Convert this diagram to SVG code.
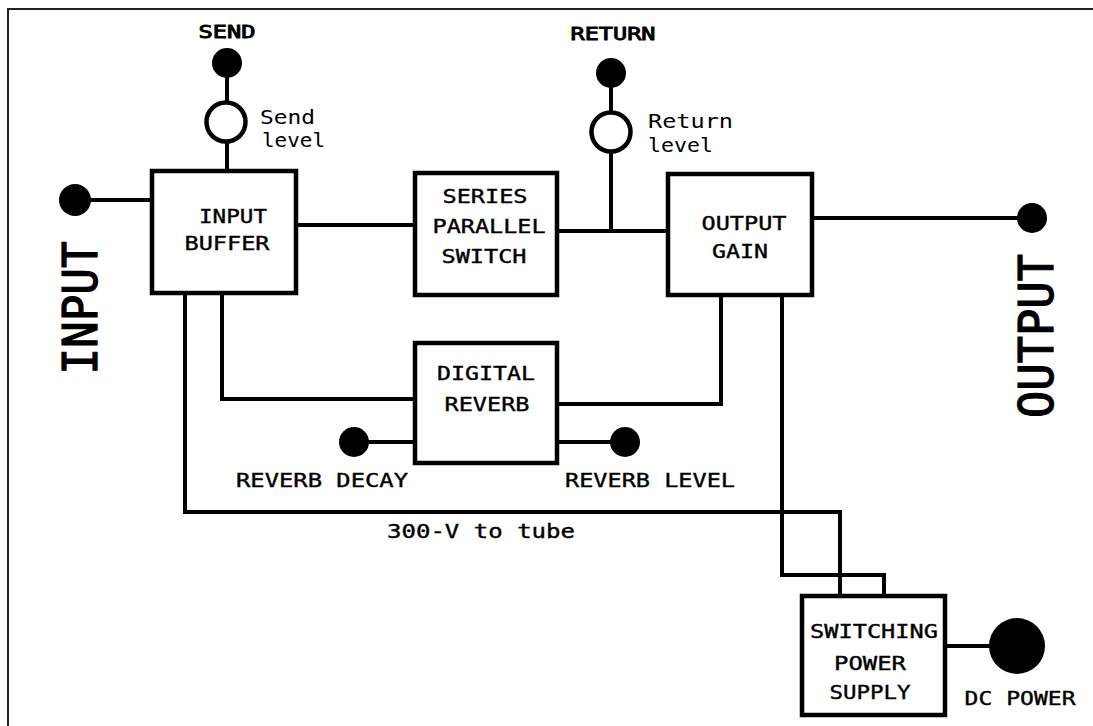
<svg xmlns="http://www.w3.org/2000/svg" width="1093" height="726" viewBox="0 0 1093 726">
<style>
.box{fill:#fff;stroke:#000;stroke-width:4.5}
.wire{fill:none;stroke:#000;stroke-width:4;stroke-linejoin:miter;stroke-linecap:square}
.dot{fill:#000}
.ring{fill:#fff;stroke:#000;stroke-width:4.5}
.t{font-family:"DejaVu Sans Mono","Liberation Mono",monospace;font-size:20px;fill:#000;stroke:#000;stroke-width:0.4;text-anchor:middle}
.tl{font-family:"DejaVu Sans Mono","Liberation Mono",monospace;font-size:20px;fill:#000;text-anchor:start}
.tb{font-family:"DejaVu Sans Mono","Liberation Mono",monospace;font-size:18px;fill:#000;stroke:#000;stroke-width:0.9;text-anchor:middle}
.big{font-family:"DejaVu Sans Mono","Liberation Mono",monospace;font-size:48px;fill:#000;stroke:#000;stroke-width:1.2;text-anchor:middle}
</style>
<rect x="0" y="0" width="1093" height="726" fill="#fff"/>
<rect id="frame" x="8" y="9" width="1100" height="730" fill="none" stroke="#222" stroke-width="2"/>

<g id="connectors">
  <line class="wire" x1="227" y1="63" x2="227" y2="171"/>
  <line class="wire" x1="75" y1="200" x2="152" y2="200"/>
  <line class="wire" x1="296" y1="225" x2="415" y2="225"/>
  <line class="wire" x1="557" y1="231" x2="668" y2="231"/>
  <line class="wire" x1="611" y1="73" x2="611" y2="231"/>
  <line class="wire" x1="812" y1="218" x2="1032" y2="218"/>
  <polyline class="wire" points="222,293 222,399 415,399"/>
  <polyline class="wire" points="557,404 721,404 721,295"/>
  <line class="wire" x1="354" y1="442" x2="415" y2="442"/>
  <line class="wire" x1="557" y1="442" x2="624" y2="442"/>
  <polyline class="wire" points="185,293 185,512 840,512 840,596"/>
  <polyline class="wire" points="782,295 782,575 884,575 884,596"/>
  <line class="wire" x1="945" y1="646" x2="1017" y2="646"/>
</g>

<g id="send">
  <circle class="dot" cx="227" cy="63" r="15"/>
  <text class="tb" x="227" y="38" textLength="57" lengthAdjust="spacingAndGlyphs">SEND</text>
</g>
<g id="send-level">
  <circle class="ring" cx="226" cy="122" r="19.5"/>
  <text class="tl" x="260" y="124" textLength="55" lengthAdjust="spacingAndGlyphs">Send</text>
  <text class="tl" x="262" y="147" textLength="63" lengthAdjust="spacingAndGlyphs">level</text>
</g>
<g id="return">
  <circle class="dot" cx="611" cy="73" r="15"/>
  <text class="tb" x="613" y="40" textLength="85" lengthAdjust="spacingAndGlyphs">RETURN</text>
</g>
<g id="return-level">
  <circle class="ring" cx="611" cy="132" r="19.5"/>
  <text class="tl" x="648" y="128" textLength="85" lengthAdjust="spacingAndGlyphs">Return</text>
  <text class="tl" x="648" y="152" textLength="65" lengthAdjust="spacingAndGlyphs">level</text>
</g>
<g id="input">
  <circle class="dot" cx="75" cy="200" r="16"/>
  <text class="big" transform="translate(97,308) rotate(-90)" x="0" y="0" textLength="133" lengthAdjust="spacingAndGlyphs">INPUT</text>
</g>
<g id="output">
  <circle class="dot" cx="1032" cy="218" r="15"/>
  <text class="big" transform="translate(1053,336) rotate(-90)" x="0" y="0" textLength="164" lengthAdjust="spacingAndGlyphs">OUTPUT</text>
</g>
<g id="input-buffer">
  <rect class="box" x="152" y="171" width="144" height="122"/>
  <text class="t" x="233" y="223" textLength="68" lengthAdjust="spacingAndGlyphs">INPUT</text>
  <text class="t" x="227" y="250" textLength="85" lengthAdjust="spacingAndGlyphs">BUFFER</text>
</g>
<g id="series-parallel-switch">
  <rect class="box" x="415" y="173" width="142" height="122"/>
  <text class="t" x="485" y="203" textLength="85" lengthAdjust="spacingAndGlyphs">SERIES</text>
  <text class="t" x="489" y="233" textLength="113" lengthAdjust="spacingAndGlyphs">PARALLEL</text>
  <text class="t" x="484" y="263" textLength="85" lengthAdjust="spacingAndGlyphs">SWITCH</text>
</g>
<g id="output-gain">
  <rect class="box" x="668" y="174" width="144" height="121"/>
  <text class="t" x="744" y="230" textLength="85" lengthAdjust="spacingAndGlyphs">OUTPUT</text>
  <text class="t" x="740" y="258" textLength="56" lengthAdjust="spacingAndGlyphs">GAIN</text>
</g>
<g id="digital-reverb">
  <rect class="box" x="415" y="343" width="142" height="120"/>
  <text class="t" x="486" y="380" textLength="98" lengthAdjust="spacingAndGlyphs">DIGITAL</text>
  <text class="t" x="487" y="411" textLength="85" lengthAdjust="spacingAndGlyphs">REVERB</text>
</g>
<g id="reverb-decay">
  <circle class="dot" cx="354" cy="442" r="15"/>
  <text class="t" x="322" y="487" textLength="172" lengthAdjust="spacingAndGlyphs">REVERB DECAY</text>
</g>
<g id="reverb-level">
  <circle class="dot" cx="625" cy="442" r="15"/>
  <text class="t" x="650" y="487" textLength="170" lengthAdjust="spacingAndGlyphs">REVERB LEVEL</text>
</g>
<g id="tube-label">
  <text class="t" x="481" y="538" textLength="188" lengthAdjust="spacingAndGlyphs">300-V to tube</text>
</g>
<g id="switching-power-supply">
  <rect class="box" x="802" y="596" width="143" height="119"/>
  <text class="t" x="874" y="638" textLength="128" lengthAdjust="spacingAndGlyphs">SWITCHING</text>
  <text class="t" x="870" y="670" textLength="72" lengthAdjust="spacingAndGlyphs">POWER</text>
  <text class="t" x="870" y="699" textLength="81" lengthAdjust="spacingAndGlyphs">SUPPLY</text>
</g>
<g id="dc-power">
  <circle class="dot" cx="1017" cy="646" r="28"/>
  <text class="t" x="1020" y="705" textLength="111" lengthAdjust="spacingAndGlyphs">DC POWER</text>
</g>
</svg>
